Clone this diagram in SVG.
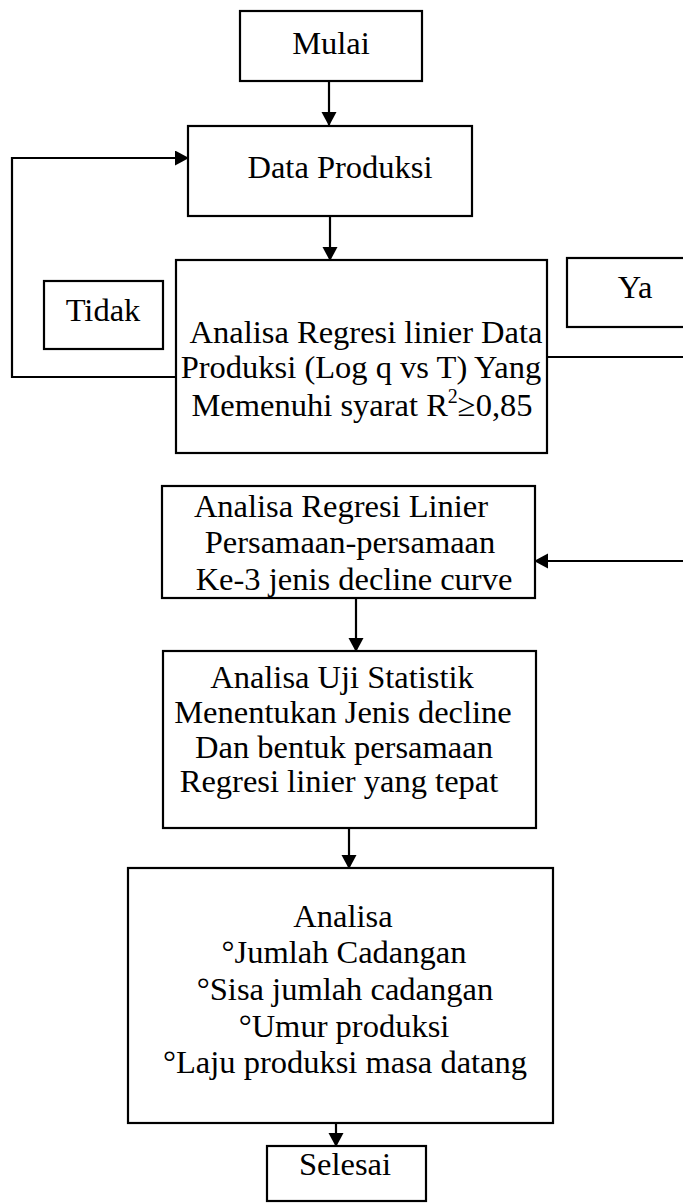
<svg xmlns="http://www.w3.org/2000/svg" width="683" height="1203" viewBox="0 0 683 1203">
<style>
  .box{fill:none;stroke:#000;stroke-width:2.2}
  .edge{fill:none;stroke:#000;stroke-width:2.2}
  .lbl{font-family:"Liberation Serif","Times New Roman",serif;font-size:32.5px;fill:#000;text-anchor:middle}
  .sup{font-size:20px}
</style>
<defs>
  <marker id="arr" markerWidth="16" markerHeight="16" refX="13" refY="7.5" orient="auto" markerUnits="userSpaceOnUse">
    <path d="M0,0 L14,7.5 L0,15 z" fill="#000"/>
  </marker>
</defs>
<rect width="683" height="1203" fill="#fff"/>

<g id="connectors">
  <path class="edge" d="M329,81 V125" marker-end="url(#arr)"/>
  <path class="edge" d="M330,216 V260" marker-end="url(#arr)"/>
  <path class="edge" d="M176,377 H12 V158 H188" marker-end="url(#arr)"/>
  <path class="edge" d="M547,357 H692 V561 H535" marker-end="url(#arr)"/>
  <path class="edge" d="M356,598 V651" marker-end="url(#arr)"/>
  <path class="edge" d="M349,828 V868" marker-end="url(#arr)"/>
  <path class="edge" d="M336,1123 V1146" marker-end="url(#arr)"/>
</g>

<g id="mulai">
  <rect class="box" x="240" y="11" width="182" height="70"/>
  <text class="lbl" x="331" y="54">Mulai</text>
</g>

<g id="data-produksi">
  <rect class="box" x="188" y="126" width="284" height="90"/>
  <text class="lbl" x="340" y="178">Data Produksi</text>
</g>

<g id="analisa-regresi-data">
  <rect class="box" x="176" y="260" width="371" height="193"/>
  <text class="lbl" x="366" y="343">Analisa Regresi linier Data</text>
  <text class="lbl" x="361" y="378">Produksi (Log q vs T) Yang</text>
  <text class="lbl" x="362" y="416">Memenuhi syarat R<tspan class="sup" dy="-13">2</tspan><tspan dy="13">≥0,85</tspan></text>
</g>

<g id="tidak">
  <rect class="box" x="44" y="281" width="119" height="68"/>
  <text class="lbl" x="103" y="321">Tidak</text>
</g>

<g id="ya">
  <rect class="box" x="567" y="258" width="130" height="69"/>
  <text class="lbl" x="635" y="298">Ya</text>
</g>

<g id="analisa-regresi-persamaan">
  <rect class="box" x="162" y="486" width="373" height="112"/>
  <text class="lbl" x="341" y="517">Analisa Regresi Linier</text>
  <text class="lbl" x="350" y="553">Persamaan-persamaan</text>
  <text class="lbl" x="354" y="590">Ke-3 jenis decline curve</text>
</g>

<g id="analisa-uji-statistik">
  <rect class="box" x="163" y="651" width="373" height="177"/>
  <text class="lbl" x="342" y="688">Analisa Uji Statistik</text>
  <text class="lbl" x="343" y="723">Menentukan Jenis decline</text>
  <text class="lbl" x="344" y="758">Dan bentuk persamaan</text>
  <text class="lbl" x="339" y="792">Regresi linier yang tepat</text>
</g>

<g id="analisa-hasil">
  <rect class="box" x="128" y="868" width="425" height="255"/>
  <text class="lbl" x="343" y="927">Analisa</text>
  <text class="lbl" x="344" y="963">°Jumlah Cadangan</text>
  <text class="lbl" x="345" y="1000">°Sisa jumlah cadangan</text>
  <text class="lbl" x="344" y="1037">°Umur produksi</text>
  <text class="lbl" x="345" y="1073">°Laju produksi masa datang</text>
</g>

<g id="selesai">
  <rect class="box" x="267" y="1146" width="159" height="55"/>
  <text class="lbl" x="345" y="1175">Selesai</text>
</g>
</svg>
